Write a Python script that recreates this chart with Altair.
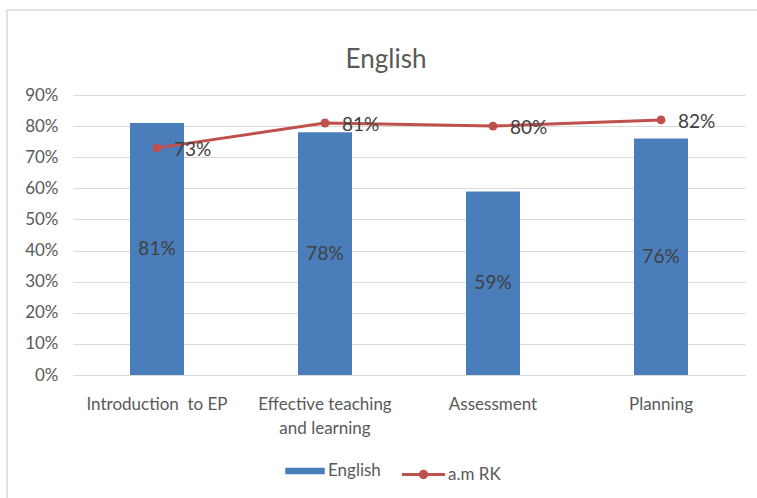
import altair as alt
import pandas as pd

categories = ["Introduction\u00a0 to EP", "Effective teaching\nand learning", "Assessment", "Planning"]
english = [0.81, 0.78, 0.59, 0.76]
am_rk = [0.73, 0.81, 0.80, 0.82]
y_ticks = [0, 0.1, 0.2, 0.3, 0.4, 0.5, 0.6, 0.7, 0.8, 0.9]

df = pd.DataFrame({
    "category": categories,
    "English": english,
    "amrk": am_rk,
    "s1": ["English"] * len(categories),
    "s2": ["a.m RK"] * len(categories),
})
df["half"] = df["English"] / 2

FONT = "Lato"
BLUE = "#4A7EBB"
RED = "#C0504D"
GRAY = "#595959"

xaxis = alt.Axis(labelAngle=0, labelExpr="split(datum.label, '\\n')",
                 labelFontSize=17, labelColor=GRAY, labelFont=FONT,
                 labelPadding=21, labelLineHeight=24, ticks=False, grid=False,
                 domainColor="#d9d9d9", labelLimit=300)
yaxis = alt.Axis(format=".0%", values=y_ticks, tickCount=10, labelOverlap=False,
                 labelFontSize=17, labelColor=GRAY, labelFont=FONT,
                 labelPadding=15, ticks=False, domain=False, grid=True,
                 gridColor="#d9d9d9")
yscale = alt.Scale(domain=[0, 0.9], nice=False)


def X():
    return alt.X("category:N", sort=categories, title=None, axis=xaxis)


def Y(field):
    return alt.Y(field, scale=yscale, title=None, axis=yaxis)


base = alt.Chart(df)

bars = base.mark_bar(size=54).encode(
    x=X(),
    y=Y("English:Q"),
    fill=alt.Fill("s1:N", scale=alt.Scale(domain=["English"], range=[BLUE]),
                  legend=alt.Legend(title=None, orient="none", legendX=212, legendY=356,
                                    symbolType="M-1,-0.17H1V0.17H-1Z", symbolSize=1560,
                                    symbolStrokeWidth=0, labelFontSize=17, labelColor=GRAY,
                                    labelFont=FONT, padding=0, labelOffset=3)),
)

bar_text = base.mark_text(fontSize=19, color="#404040", font=FONT).encode(
    x=X(),
    y=Y("half:Q"),
    text=alt.Text("English:Q", format=".0%"),
)

line = base.mark_line(strokeWidth=3).encode(
    x=X(),
    y=Y("amrk:Q"),
    stroke=alt.Stroke("s2:N", scale=alt.Scale(domain=["a.m RK"], range=[RED]),
                      legend=alt.Legend(title=None, orient="none", legendX=327, legendY=356,
                                        symbolType="M-1,0H1M-0.15,0A0.15,0.15 0 1,1 0.15,0A0.15,0.15 0 1,1 -0.15,0Z",
                                        symbolSize=1850, symbolStrokeWidth=3, symbolFillColor=RED,
                                        labelFontSize=17, labelColor=GRAY, labelFont=FONT,
                                        padding=0, labelOffset=1)),
)

points = base.mark_point(filled=True, size=80, color=RED, opacity=1).encode(
    x=X(),
    y=Y("amrk:Q"),
)

line_text = base.mark_text(fontSize=19, color="#404040", font=FONT, align="left",
                           dx=17, dy=2).encode(
    x=X(),
    y=Y("amrk:Q"),
    text=alt.Text("amrk:Q", format=".0%"),
)

frame = alt.Chart(pd.DataFrame({"a": [0]})).mark_rect(
    fill=None, stroke="#d9d9d9", strokeWidth=1.5
).encode(x=alt.value(-66), x2=alt.value(720), y=alt.value(-85), y2=alt.value(440))

chart = alt.layer(bars, bar_text, line, points, line_text, frame).resolve_scale(
    fill="independent", stroke="independent"
).properties(
    width=672, height=280,
    title=alt.Title("English", fontSize=26, color=GRAY, font=FONT, baseline="alphabetic",
                    fontWeight="normal", offset=0, dx=-23, dy=85, frame="group"),
    autosize=alt.AutoSizeParams(type="none"),
    padding={"left": 73, "top": 95, "right": 12, "bottom": 123},
    background="white",
).configure(view=alt.ViewConfig(stroke="transparent", strokeWidth=0))

chart.save("out.html", embed_options={"renderer": "svg", "actions": False})
